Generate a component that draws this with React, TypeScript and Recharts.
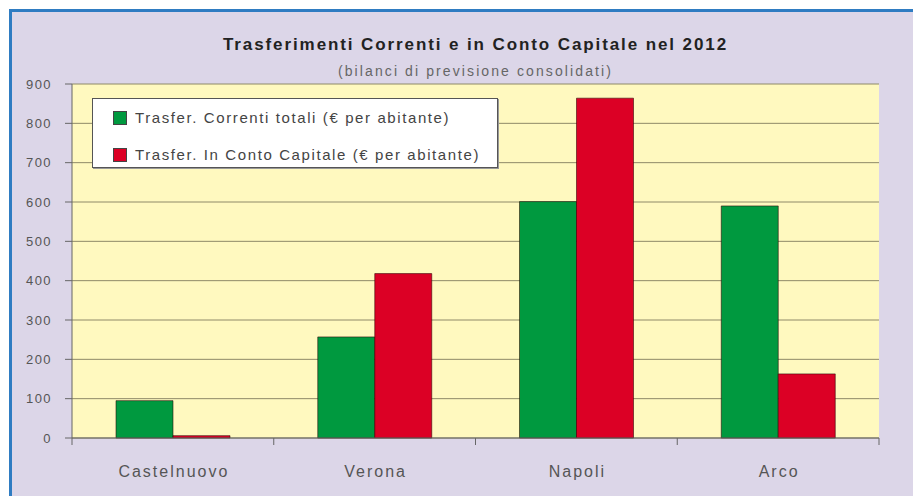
import React from 'react';
import { BarChart, Bar, XAxis, YAxis, CartesianGrid, Legend } from 'recharts';

const cities = ['Castelnuovo', 'Verona', 'Napoli', 'Arco'];
const correnti = [95, 257, 601, 590];
const capitale = [6, 418, 864, 163];
const yTicks = [0, 100, 200, 300, 400, 500, 600, 700, 800, 900];

const SERIES = [
  { key: 'correnti', name: 'Trasfer. Correnti totali (€ per abitante)', color: '#00993f' },
  { key: 'capitale', name: 'Trasfer. In Conto Capitale (€ per abitante)', color: '#dc0025' },
];

const data = cities.map((city, i) => ({ city, correnti: correnti[i], capitale: capitale[i] }));

const FONT = '"Liberation Sans", Arial, sans-serif';

const CityTick = (props: any) => {
  const { x, y, payload, index } = props;
  const half = payload.offset || 0;
  return (
    <g>
      {index === 0 && <line x1={x - half} x2={x - half} y1={y - 8} y2={y - 1} stroke="#666" />}
      <line x1={x + half} x2={x + half} y1={y - 8} y2={y - 1} stroke="#666" />
      <text x={x + 1} y={y + 31} textAnchor="middle" fill="#555" fontSize={16} letterSpacing={2} fontFamily={FONT}>
        {payload.value}
      </text>
    </g>
  );
};

const renderLegend = () => (
  <div
    style={{
      background: '#fff',
      border: '1px solid #555',
      boxShadow: '1px 1px 0 #999',
      width: 406,
      height: 70,
      boxSizing: 'border-box',
      padding: '8px 0 0 20px',
      fontFamily: FONT,
      fontSize: 15,
      letterSpacing: 1.6,
      color: '#444',
    }}
  >
    {SERIES.map(s => (
      <div key={s.key} style={{ display: 'flex', alignItems: 'center', height: 21, marginBottom: 16 }}>
        <span style={{ width: 12, height: 12, background: s.color, border: '1px solid #444', marginRight: 8 }} />
        <span>{s.name}</span>
      </div>
    ))}
  </div>
);

export default function App() {
  return (
    <div style={{ position: 'absolute', left: 0, top: 0, width: 913, height: 496, background: '#fff', overflow: 'hidden' }}>
      <div
        style={{
          position: 'absolute',
          left: 9,
          top: 9,
          width: 913,
          height: 496,
          background: '#dcd6e8',
          borderTop: '3px solid #2f7cc2',
          borderLeft: '3px solid #2f7cc2',
        }}
      />
      <div
        style={{
          position: 'absolute',
          left: 72,
          width: 807,
          top: 35,
          textAlign: 'center',
          fontFamily: FONT,
          fontWeight: 'bold',
          fontSize: 17,
          letterSpacing: 1.9,
          color: '#222',
        }}
      >
        Trasferimenti Correnti e in Conto Capitale nel 2012
      </div>
      <div
        style={{
          position: 'absolute',
          left: 72,
          width: 807,
          top: 63,
          textAlign: 'center',
          fontFamily: FONT,
          fontSize: 14,
          letterSpacing: 2.1,
          color: '#666',
        }}
      >
        (bilanci di previsione consolidati)
      </div>
      <div style={{ position: 'absolute', left: 0, top: 0 }}>
        <BarChart
          width={913}
          height={496}
          data={data}
          margin={{ top: 84, right: 34, bottom: 18, left: 0 }}
          barCategoryGap={44}
          barGap={0}
        >
          <CartesianGrid vertical={false} stroke="#8f8a68" fill="#fff9bf" />
          <XAxis
            dataKey="city"
            height={40}
            axisLine={{ stroke: '#666' }}
            tickLine={false}
            tick={<CityTick />}
            interval={0}
          />
          <YAxis
            width={72}
            domain={[0, 900]}
            ticks={yTicks}
            interval={0}
            tickSize={7}
            tickMargin={13}
            axisLine={{ stroke: '#666' }}
            tickLine={{ stroke: '#666' }}
            tick={{ fill: '#555', fontSize: 13, letterSpacing: 1.4, fontFamily: FONT }}
          />
          <Legend
            layout="vertical"
            align="center"
            verticalAlign="middle"
            content={renderLegend}
            wrapperStyle={{ left: 92, top: 98, width: 406, height: 70 }}
          />
          {SERIES.map(s => (
            <Bar
              key={s.key}
              dataKey={s.key}
              name={s.name}
              fill={s.color}
              stroke="rgba(40,0,0,0.55)"
              strokeWidth={1}
              isAnimationActive={false}
            />
          ))}
        </BarChart>
      </div>
    </div>
  );
}
